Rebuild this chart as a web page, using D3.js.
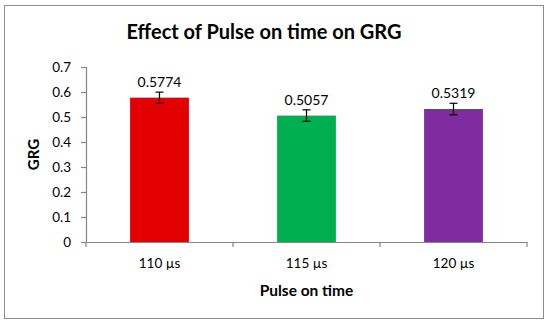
<html>
<head>
<script src="https://d3js.org/d3.v7.min.js"></script>
<style>
  body { margin: 0; background: white; }
  text { font-family: Lato, "Open Sans", sans-serif; fill: #000; }
</style>
</head>
<body>
<svg width="550" height="325"></svg>
<script>
// chart data
var categories = ["110 \u00b5s", "115 \u00b5s", "120 \u00b5s"];
var values = [0.5774, 0.5057, 0.5319];
var errors = [0.022, 0.023, 0.023];
var barColors = ["#E20000", "#00B050", "#7E2CA0"];
var yTicks = [0, 0.1, 0.2, 0.3, 0.4, 0.5, 0.6, 0.7];

var svg = d3.select("svg");
var plotL = 86, plotR = 527, plotT = 67, plotB = 242;

// outer frame
svg.append("rect")
  .attr("x", 4.5).attr("y", 5.5)
  .attr("width", 539).attr("height", 313)
  .attr("fill", "white").attr("stroke", "#8c8c8c").attr("stroke-width", 1);

var x = d3.scaleBand().domain(categories).range([plotL, plotR]).padding(0);
var y = d3.scaleLinear().domain([0, 0.7]).range([plotB, plotT]);
var barW = x.bandwidth() * 0.4;

// y axis
var yAxis = svg.append("g").attr("transform", "translate(" + plotL + ",0)")
  .call(d3.axisLeft(y).tickValues(yTicks).tickSize(5).tickPadding(10)
    .tickFormat(function(d) { return d === 0 ? "0" : d3.format(".1f")(d); }));
yAxis.selectAll("text").attr("font-size", 13.5);

// x axis
var xAxis = svg.append("g").attr("transform", "translate(0," + plotB + ")")
  .call(d3.axisBottom(x).tickSize(0).tickPadding(16));
xAxis.selectAll("text").attr("font-size", 13.5);
// boundary ticks for x
xAxis.selectAll(".bound").data(d3.range(categories.length + 1)).enter()
  .append("line").attr("class", "bound")
  .attr("x1", function(i) { return plotL + i * x.step(); })
  .attr("x2", function(i) { return plotL + i * x.step(); })
  .attr("y1", 0).attr("y2", 5);

svg.selectAll(".domain, .tick line, .bound")
  .attr("stroke", "#868686").attr("stroke-width", 1.2);

// bars
svg.selectAll(".bar").data(values).enter()
  .append("rect").attr("class", "bar")
  .attr("x", function(d, i) { return x(categories[i]) + (x.bandwidth() - barW) / 2; })
  .attr("y", function(d) { return y(d); })
  .attr("width", barW)
  .attr("height", function(d) { return plotB - y(d); })
  .attr("fill", function(d, i) { return barColors[i]; });

// error bars
var eb = svg.selectAll(".err").data(values).enter().append("g").attr("class", "err")
  .attr("stroke", "#000").attr("stroke-width", 1.2);
function cx(i) { return x(categories[i]) + x.bandwidth() / 2; }
eb.append("line")
  .attr("x1", function(d, i) { return cx(i); }).attr("x2", function(d, i) { return cx(i); })
  .attr("y1", function(d, i) { return y(d + errors[i]); })
  .attr("y2", function(d, i) { return y(d - errors[i]); });
eb.append("line")
  .attr("x1", function(d, i) { return cx(i) - 4; }).attr("x2", function(d, i) { return cx(i) + 4; })
  .attr("y1", function(d, i) { return y(d + errors[i]); })
  .attr("y2", function(d, i) { return y(d + errors[i]); });
eb.append("line")
  .attr("x1", function(d, i) { return cx(i) - 4; }).attr("x2", function(d, i) { return cx(i) + 4; })
  .attr("y1", function(d, i) { return y(d - errors[i]); })
  .attr("y2", function(d, i) { return y(d - errors[i]); });

// value labels
svg.selectAll(".val").data(values).enter()
  .append("text").attr("class", "val")
  .attr("x", function(d, i) { return cx(i); })
  .attr("y", function(d, i) { return y(d + errors[i]) - 5; })
  .attr("text-anchor", "middle").attr("font-size", 14)
  .text(function(d) { return d3.format(".4f")(d); });

// titles
svg.append("text").attr("x", 264).attr("y", 39)
  .attr("text-anchor", "middle").attr("font-size", 20).attr("font-weight", "bold")
  .text("Effect of Pulse on time on GRG");

svg.append("text").attr("x", (plotL + plotR) / 2).attr("y", 296)
  .attr("text-anchor", "middle").attr("font-size", 15.5).attr("font-weight", "bold")
  .text("Pulse on time");

svg.append("text")
  .attr("transform", "translate(39," + ((plotT + plotB) / 2) + ") rotate(-90)")
  .attr("text-anchor", "middle").attr("font-size", 15).attr("font-weight", "bold")
  .text("GRG");
</script>
</body>
</html>
